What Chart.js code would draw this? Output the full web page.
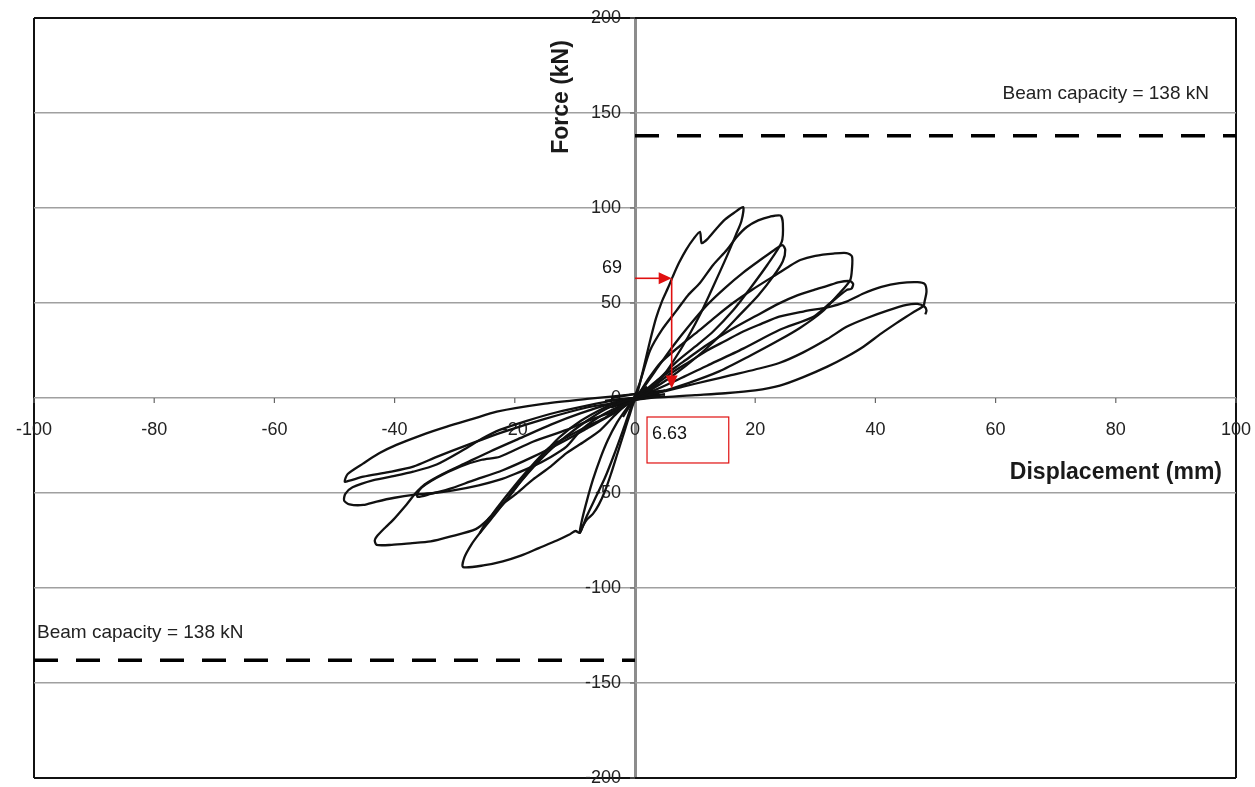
<!DOCTYPE html>
<html><head><meta charset="utf-8">
<script src="https://cdn.jsdelivr.net/npm/chart.js@4"></script>
<style>html,body{margin:0;padding:0;background:#fff}#wrap{position:relative;width:1255px;height:787px}</style>
</head><body><div id="wrap"><canvas id="c" width="1255" height="787"></canvas></div>
<script>
// ---- data (displacement mm, force kN) ----
const xTicks = [-100,-80,-60,-40,-20,0,20,40,60,80,100];
const yTicks = [-200,-150,-100,-50,0,50,100,150,200];
const beamCapacity = 138;
const capacityLabel = 'Beam capacity = 138 kN';
const markForce = 63, markForceLabel = '69';
const markDisp = 6.1, markDispLabel = '6.63';

const loopP1 = [[-2,-10],[-0.5,-2],[0.8,8],[1.6,18],[2.5,30],[3.5,42],[4.5,51],[5.5,58],[6.3,64],[7.3,71],[8.5,78],[9.8,84],[10.8,87.5],[11.1,81.5],[12,83.5],[13.5,89],[15,94],[16.5,97.5],[18,100.5],[17.7,93],[16.8,86],[15.2,74],[13.2,60],[11,45],[8.8,32],[6.5,20],[4.3,10],[2.2,3],[0,-1],[-2,-4]];
const loopN1 = [[2,6],[0,-1],[-1,-10],[-2,-20],[-3,-30],[-4,-40],[-5,-49],[-6,-56],[-7,-61],[-8,-64],[-8.6,-67],[-9.2,-71],[-8.8,-64],[-8,-54],[-7,-43],[-5.8,-32],[-4.5,-22],[-3,-13],[-1.5,-6],[0,0],[2,3]];
const loopP2 = [[-3,-6],[0,0],[1,10],[2.5,25],[4.5,36],[6.9,46],[8.8,54],[10.8,60.5],[13,70],[15.3,78],[17,85],[18.6,90],[20.5,93.5],[22.5,95.5],[24.2,96],[24.6,92],[24.4,82],[22,70],[19,57],[16.3,46],[13,35],[10,27],[6.9,19],[4,10],[1.5,3],[0,0],[-3,-3]];
const loopN2 = [[3,5],[0,0],[-1,-8],[-2,-17],[-3.5,-30],[-5,-42],[-6.5,-52],[-8,-62],[-9.2,-71],[-9.9,-70],[-11,-72],[-13,-75],[-16,-79],[-19,-83],[-22,-86],[-25,-88],[-28.6,-89],[-28.4,-84],[-27.2,-77],[-25.8,-71],[-23.5,-62],[-21,-52],[-19,-44],[-16.5,-35],[-14,-27],[-11.4,-20],[-8,-12],[-5,-6],[-2,-2],[0,0],[3,2]];
const loopP2b = [[-3,-5],[0,0],[2,8],[4,17],[6.5,28],[9,38],[12,49],[15,58],[18,66],[21,73],[23,77.5],[24.5,80.5],[25,78],[24.6,72],[23,64],[20.5,54],[17.5,44],[14.5,34],[11.5,25],[8.5,17],[5.5,10],[3,5],[0,0],[-3,-2]];
const loopN2b = [[3,3],[0,0],[-2.5,-4],[-4.7,-9.8],[-8,-15],[-11,-20],[-14.1,-25.6],[-17,-35],[-20,-46],[-23,-58],[-25,-67],[-25.8,-71],[-24.5,-64],[-22,-56],[-19.7,-46.7],[-17,-36],[-14.5,-27],[-12.5,-20.4],[-9,-12],[-5,-5],[-2,-1],[0,0],[3,4]];
const loopP3 = [[-4,-5],[0,0],[2,9],[4.2,18.4],[7.5,27.5],[10.8,35.8],[13.5,43],[16.3,50],[19.5,57],[23,64],[25.5,69],[27.5,72.6],[30,74.8],[33,76],[35.2,76.3],[36.1,74.5],[36.1,68],[35.8,62],[34,55],[31,45],[27.5,37],[24,30.5],[19,22],[14,14],[9,8],[4,3],[0,0],[-4,-3]];
const loopN3 = [[4,3],[0,0],[-3,-8],[-5.8,-17],[-8.5,-23],[-11.4,-29],[-14,-36],[-17,-43],[-20,-51],[-22.5,-57],[-24.5,-64],[-26.5,-69],[-30.8,-73],[-34,-75.5],[-37.4,-76.5],[-40.5,-77.3],[-43,-77.3],[-43.3,-75],[-43,-73],[-41.5,-68],[-40.2,-64],[-38,-56],[-36,-48.4],[-33,-42],[-29,-36],[-25.5,-32.5],[-22.5,-30.9],[-17,-23],[-11.4,-16.8],[-7,-11],[-3,-6.3],[0,-1],[4,1]];
const loopP3b = [[-3,-4],[0,0],[4,10],[8,19],[12,28],[16,36],[20,43],[24,49.8],[27,54],[29.7,56.8],[32,59],[34,61],[35.8,61.5],[36.3,60],[36,57.5],[35.2,56.8],[32.5,50],[29.7,42.8],[24,35.8],[18,26],[12,17],[6,8],[0,0],[-3,-1]];
const loopN3b = [[3,2],[0,-1],[-4,-9],[-8,-16],[-12,-23],[-17,-31],[-22,-38],[-27,-43.5],[-31,-48],[-34,-50.5],[-36.2,-52],[-36,-49],[-35,-45.5],[-32,-40],[-28,-34],[-24,-28],[-19,-21],[-14,-14],[-9,-8],[-4,-3],[0,0],[4,3]];
const loopP4 = [[-4,-3],[0,0],[3,6],[6,13],[9,19],[12,25],[15,30],[18,35],[21,39],[24,42.8],[28,45.5],[32.4,48],[35.2,50.7],[38,55],[41,58.5],[44,60.5],[47,61],[48.2,60],[48.5,56],[48.2,51],[48,48.5],[46.5,45.5],[45,42.5],[43.5,39.4],[41,34],[38,27],[35.2,21.7],[32,16.5],[28,11],[24.1,6.5],[20,4],[15,2.5],[10,1.5],[5,0.5],[0,0],[-5,-1.5]];
const loopN4 = [[4,2],[0,-1],[-3,-5],[-6,-10],[-9,-17],[-11.4,-25.6],[-14,-31],[-17,-36],[-20,-40],[-22.5,-43],[-26,-46],[-30,-48.5],[-33.5,-50],[-36.9,-51],[-40,-52.5],[-43,-54.5],[-45.2,-56.3],[-47.5,-56],[-48.4,-54],[-48.2,-50.5],[-47,-47],[-43.5,-43.2],[-40,-41],[-36.9,-38.8],[-33,-35],[-28.6,-27.4],[-25.5,-21.5],[-22.5,-16.8],[-18,-12],[-13,-7.5],[-8,-4],[-3,-1],[0,0],[5,2]];
const loopN4b = [[5,1],[0,-1],[-4,-3],[-8,-5],[-15,-11],[-22,-18],[-28.6,-25.6],[-33,-31],[-36.9,-36.1],[-41,-39],[-45.2,-41.4],[-47.5,-43.5],[-48.3,-44],[-47.8,-40],[-45.2,-34.4],[-42.5,-29],[-39.7,-24.7],[-35.5,-19.5],[-31.3,-15.1],[-27,-11],[-23,-7.2],[-15,-3],[-8,-0.5],[0,2],[5,4]];
const loopP4b = [[-4,0],[0,2],[4,3],[8,6],[12,9],[16,12],[20,15],[24,18.4],[28,24],[32,31],[35.2,37.5],[38.5,42],[42,46],[45.2,49],[47,49.5],[48.2,48],[48.5,46],[48.3,44]];

const loops = [loopP1, loopN1, loopP2, loopN2, loopP2b, loopN2b, loopP3, loopN3, loopP3b, loopN3b, loopP4, loopN4, loopN4b, loopP4b];

const FONT = '"Liberation Sans", Arial, sans-serif';

const datasets = loops.map(l => ({
  data: l.map(p => ({x: p[0], y: p[1]})),
  showLine: true, pointRadius: 0, borderColor: '#111', borderWidth: 2.3, tension: 0.25, fill: false
}));
datasets.push({data: [{x: 0, y: beamCapacity}, {x: 100, y: beamCapacity}], showLine: true, pointRadius: 0, borderColor: '#000', borderWidth: 3.5, borderDash: [24, 18], tension: 0});
datasets.push({data: [{x: -100, y: -beamCapacity}, {x: 0, y: -beamCapacity}], showLine: true, pointRadius: 0, borderColor: '#000', borderWidth: 3.5, borderDash: [24, 18], tension: 0});

const labelsPlugin = {
  id: 'labels',
  beforeDatasetsDraw(chart) {
    const c = chart.ctx, xs = chart.scales.x, ys = chart.scales.y;
    const x0 = xs.getPixelForValue(0), y0 = ys.getPixelForValue(0);
    c.save();
    c.strokeStyle = '#666'; c.lineWidth = 1.2;
    xTicks.forEach(v => { const px = xs.getPixelForValue(v); c.beginPath(); c.moveTo(px, y0); c.lineTo(px, y0 + 5); c.stroke(); });
    yTicks.forEach(v => { const py = ys.getPixelForValue(v); c.beginPath(); c.moveTo(x0 - 5, py); c.lineTo(x0, py); c.stroke(); });
    c.fillStyle = '#222';
    c.font = '18px ' + FONT;
    c.textAlign = 'right'; c.textBaseline = 'middle';
    yTicks.forEach(v => { c.fillText(String(v), x0 - 14, ys.getPixelForValue(v)); });
    c.textAlign = 'center';
    xTicks.forEach(v => { c.fillText(String(v), xs.getPixelForValue(v), y0 + 32); });
    c.fillStyle = '#1a1a1a';
    c.font = 'bold 23px ' + FONT;
    c.textAlign = 'right';
    c.fillText('Displacement (mm)', 1222, 473);
    c.save();
    c.translate(562, 97); c.rotate(-Math.PI / 2);
    c.textAlign = 'center';
    c.fillText('Force (kN)', 0, 0);
    c.restore();
    c.font = '19px ' + FONT;
    c.fillStyle = '#222';
    c.textAlign = 'right';
    c.fillText(capacityLabel, 1209, 94);
    c.textAlign = 'left';
    c.fillText(capacityLabel, 37, 633);
    c.restore();
  },
  afterDatasetsDraw(chart) {
    const c = chart.ctx, xs = chart.scales.x, ys = chart.scales.y;
    const x0 = xs.getPixelForValue(0);
    const mx = xs.getPixelForValue(markDisp), my = ys.getPixelForValue(markForce), mb = ys.getPixelForValue(5);
    c.save();
    c.strokeStyle = '#e01010'; c.fillStyle = '#e01010'; c.lineWidth = 1.6;
    c.beginPath(); c.moveTo(x0, my); c.lineTo(mx - 10, my); c.stroke();
    c.beginPath(); c.moveTo(mx, my); c.lineTo(mx - 13, my - 6); c.lineTo(mx - 13, my + 6); c.closePath(); c.fill();
    c.beginPath(); c.moveTo(mx, my); c.lineTo(mx, mb - 10); c.stroke();
    c.beginPath(); c.moveTo(mx, mb); c.lineTo(mx - 6, mb - 13); c.lineTo(mx + 6, mb - 13); c.closePath(); c.fill();
    const bx1 = xs.getPixelForValue(2), bx2 = xs.getPixelForValue(15.6);
    const by1 = ys.getPixelForValue(-10), by2 = ys.getPixelForValue(-34.2);
    c.lineWidth = 1.2;
    c.strokeRect(bx1, by1, bx2 - bx1, by2 - by1);
    c.fillStyle = '#111';
    c.font = '18px ' + FONT;
    c.textAlign = 'left'; c.textBaseline = 'middle';
    c.fillText(markDispLabel, bx1 + 5, (by1 + by2) / 2 - 6);
    c.textAlign = 'right';
    c.fillText(markForceLabel, 622, ys.getPixelForValue(69) + 1);
    c.restore();
  }
};

new Chart(document.getElementById('c'), {
  type: 'scatter',
  data: {datasets},
  options: {
    responsive: false, animation: false,
    layout: {padding: {left: 34, right: 19, top: 18, bottom: 9}},
    plugins: {legend: {display: false}, tooltip: {enabled: false}},
    scales: {
      x: {
        type: 'linear', min: -100, max: 100,
        ticks: {display: false, stepSize: 20},
        border: {display: false},
        grid: {
          drawTicks: false,
          color: ctx => { const v = ctx.tick.value; return (v === -100 || v === 100) ? '#111' : (v === 0 ? '#8c8c8c' : 'rgba(0,0,0,0)'); },
          lineWidth: ctx => { const v = ctx.tick.value; return (v === -100 || v === 100) ? 2 : (v === 0 ? 3 : 0); }
        },
        afterFit: s => { s.height = 0; }
      },
      y: {
        type: 'linear', min: -200, max: 200,
        ticks: {display: false, stepSize: 50},
        border: {display: false},
        grid: {
          drawTicks: false,
          color: ctx => { const v = ctx.tick.value; return (v === -200 || v === 200) ? '#111' : '#a0a0a0'; },
          lineWidth: ctx => { const v = ctx.tick.value; return (v === -200 || v === 200) ? 2 : 1.5; }
        },
        afterFit: s => { s.width = 0; }
      }
    }
  },
  plugins: [labelsPlugin]
});
</script>
</body></html>
